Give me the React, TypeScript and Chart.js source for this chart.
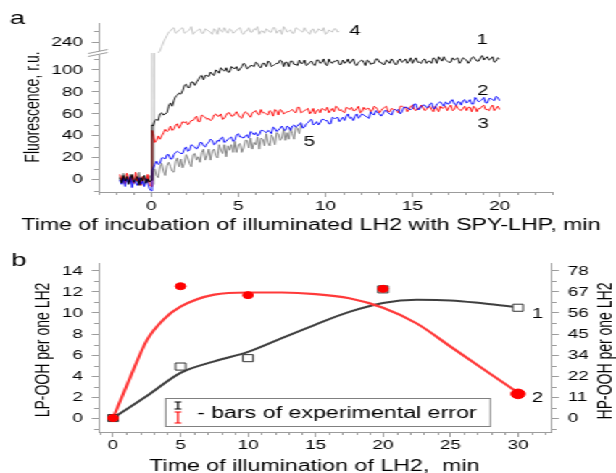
import React, { useEffect, useRef } from "react";
import { Chart, registerables } from "chart.js";

Chart.register(...registerables);

const FONT = "'Liberation Sans', Arial, Helvetica, sans-serif";
const W = 425;
const K = 616 / W;
const AX = "#9c9c9c";
const HA = 245; // panel a canvas height
const TOP_B = 226; // panel b canvas offset
const HB = 260; // panel b canvas height

// ---------------- Panel a : fluorescence traces ----------------
const PRE_T = [-1.8, -1.7, -1.6, -1.5, -1.4, -1.3, -1.2, -1.1, -1.0, -0.9, -0.8, -0.7, -0.6, -0.5, -0.4, -0.3, -0.2, -0.1, 0.0];
const POST_T = [0.05, 0.2, 0.4, 0.6, 0.8, 1, 1.2, 1.4, 1.6, 1.8, 2, 2.2, 2.4, 2.6, 2.8, 3, 3.2, 3.4, 3.6, 3.8, 4, 4.2, 4.4, 4.6, 4.8, 5, 5.2, 5.4, 5.6, 5.8, 6, 6.2, 6.4, 6.6, 6.8, 7, 7.2, 7.4, 7.6, 7.8, 8, 8.2, 8.4, 8.6, 8.8, 9, 9.2, 9.4, 9.6, 9.8, 10, 10.2, 10.4, 10.6, 10.8, 11, 11.2, 11.4, 11.6, 11.8, 12, 12.2, 12.4, 12.6, 12.8, 13, 13.2, 13.4, 13.6, 13.8, 14, 14.2, 14.4, 14.6, 14.8, 15, 15.2, 15.4, 15.6, 15.8, 16, 16.2, 16.4, 16.6, 16.8, 17, 17.2, 17.4, 17.6, 17.8, 18, 18.2, 18.4, 18.6, 18.8, 19, 19.2, 19.4, 19.6, 19.8, 20];
const MID_T = [0.1, 0.3, 0.5, 0.7, 0.9, 1.1, 1.3, 1.5, 1.7, 1.9, 2.1, 2.3, 2.5, 2.7, 2.9, 3.1, 3.3, 3.5, 3.7, 3.9, 4.1, 4.3, 4.5, 4.7, 4.9, 5.1, 5.3, 5.5, 5.7, 5.9, 6.1, 6.3, 6.5, 6.7, 6.9, 7.1, 7.3, 7.5, 7.7, 7.9, 8.1, 8.3, 8.5, 8.7, 8.9, 9.1, 9.3, 9.5, 9.7, 9.9, 10.1, 10.3, 10.5, 10.7, 10.9, 11.1, 11.3, 11.5, 11.7, 11.9, 12.1, 12.3, 12.5, 12.7, 12.9, 13.1, 13.3, 13.5, 13.7, 13.9, 14.1, 14.3, 14.5, 14.7, 14.9, 15.1, 15.3, 15.5, 15.7, 15.9, 16.1, 16.3, 16.5, 16.7, 16.9, 17.1, 17.3, 17.5, 17.7, 17.9, 18.1, 18.3, 18.5, 18.7, 18.9, 19.1, 19.3, 19.5, 19.7, 19.9];

const BLACK_PRE = [2, -3, 4, -1, 3, -4, 1, 5, -2, 0, 3, -5, 2, -1, 4, -3, 1, -2, 0];
const RED_PRE = [5, -1, 3, -4, 6, 0, -2, 4, -3, 7, -1, 2, -5, 3, 1, -2, 5, -4, -6];
const BLUE_PRE = [0, -4, 2, -6, 1, -3, 3, -7, 0, -2, -5, 2, -4, -1, -6, 1, -3, -8, -10];
const GRAY5_PRE = [3, -2, 6, -1, 2, -4, 5, 0, -3, 4, -2, 7, -1, 3, -5, 2, -2, 4, 0];
const GRAY4_PRE = [1, 4, -2, 5, 0, -3, 3, 1, -4, 2, 6, -1, 0, 3, -3, 4, -2, 1, -3];

// curve 1 (black)
const BLACK_POST = [50, 54, 54, 61, 60, 67, 67, 76, 79, 81, 87, 84, 89, 89, 94, 91, 95, 98, 95, 99, 102, 99, 98, 103, 101, 99, 103, 105, 102, 104, 107, 103, 106, 103, 107, 104, 106, 109, 103, 107, 108, 105, 104, 106, 109, 105, 108, 104, 109, 107, 105, 110, 106, 108, 105, 109, 107, 106, 110, 104, 108, 107, 109, 105, 106, 110, 107, 105, 108, 110, 105, 109, 107, 110, 108, 106, 111, 107, 109, 106, 108, 111, 106, 110, 112, 108, 107, 109, 111, 108, 110, 106, 111, 110, 108, 113, 111, 109, 112, 108, 110];
const BLACK_MID = [49, 55, 60, 59, 61, 70, 72, 77, 78, 86, 84, 89, 86, 91, 95, 95, 94, 96, 100, 97, 100, 102, 98, 102, 103, 101, 106, 101, 104, 103, 106, 102, 106, 108, 103, 105, 106, 108, 107, 103, 108, 105, 109, 106, 104, 107, 105, 109, 106, 110, 104, 107, 108, 109, 105, 106, 110, 108, 105, 107, 109, 104, 108, 106, 110, 107, 105, 109, 106, 108, 105, 110, 108, 106, 111, 109, 107, 106, 110, 108, 106, 110, 112, 108, 109, 107, 111, 110, 106, 111, 109, 108, 112, 108, 111, 109, 112, 110, 107, 111];
// curve 3 (red)
const RED_POST = [45, 34, 40, 40, 46, 45, 45, 50, 47, 53, 53, 52, 54, 58, 53, 58, 55, 54, 59, 58, 60, 56, 61, 58, 60, 59, 56, 62, 59, 61, 63, 59, 61, 60, 63, 58, 63, 64, 60, 62, 63, 62, 66, 61, 63, 65, 62, 60, 64, 65, 63, 61, 65, 67, 63, 62, 66, 64, 63, 65, 61, 66, 65, 62, 67, 64, 63, 66, 62, 65, 64, 61, 67, 66, 64, 68, 63, 65, 66, 64, 67, 62, 65, 67, 66, 63, 68, 64, 65, 63, 67, 66, 62, 66, 65, 67, 64, 63, 68, 65, 64];
const RED_MID = [42, 36, 37, 43, 44, 49, 46, 51, 50, 52, 50, 54, 56, 53, 59, 57, 56, 55, 60, 58, 55, 59, 61, 58, 62, 57, 60, 61, 57, 62, 60, 64, 61, 59, 62, 64, 59, 63, 61, 62, 64, 61, 66, 62, 64, 60, 65, 63, 61, 64, 66, 63, 62, 66, 64, 61, 65, 66, 63, 67, 62, 64, 65, 63, 66, 61, 65, 67, 62, 64, 63, 67, 66, 62, 67, 64, 65, 68, 63, 66, 64, 67, 62, 65, 67, 66, 63, 68, 64, 65, 63, 66, 67, 62, 65, 68, 64, 66, 63, 67];
// curve 2 (blue)
const BLUE_POST = [9, 14, 14, 20, 19, 23, 19, 25, 25, 24, 30, 27, 31, 28, 34, 31, 33, 37, 32, 36, 38, 34, 37, 39, 36, 42, 39, 40, 38, 43, 43, 41, 45, 43, 44, 48, 44, 47, 46, 49, 45, 50, 49, 52, 48, 52, 55, 51, 50, 55, 54, 51, 57, 56, 53, 57, 58, 56, 54, 60, 58, 59, 57, 62, 59, 61, 58, 63, 61, 59, 64, 64, 62, 66, 64, 65, 69, 64, 68, 66, 69, 65, 69, 71, 67, 69, 72, 69, 71, 68, 73, 71, 69, 75, 71, 73, 70, 74, 73, 76, 72];
const BLUE_MID = [10, 17, 15, 20, 23, 19, 23, 26, 24, 28, 26, 32, 30, 30, 34, 30, 34, 36, 33, 35, 39, 35, 38, 35, 41, 39, 38, 41, 44, 41, 40, 45, 44, 45, 42, 47, 45, 49, 45, 48, 49, 48, 51, 47, 51, 54, 50, 53, 52, 55, 54, 51, 56, 57, 55, 54, 60, 57, 58, 56, 60, 58, 56, 60, 63, 60, 60, 63, 60, 63, 63, 60, 66, 66, 64, 69, 64, 67, 68, 66, 70, 65, 70, 69, 71, 69, 73, 68, 71, 72, 70, 73, 69, 73, 72, 75, 70, 74, 72, 75];
// curve 5 (dark gray), stops at 8.6 min
const GRAY5_POST = [-1, 10, 2, 15, 4, 16, 8, 17, 12, 11, 23, 15, 23, 18, 16, 28, 22, 18, 28, 20, 27, 32, 31, 32, 35, 32, 25, 36, 29, 28, 32, 28, 37, 42, 31, 38, 43, 36, 46, 43, 47, 37, 47, 51];
const GRAY5_MID = [7, 4, 12, 8, 13, 12, 7, 20, 19, 15, 20, 12, 24, 21, 25, 18, 28, 26, 22, 32, 24, 21, 27, 25, 25, 33, 29, 36, 38, 34, 39, 38, 31, 34, 41, 32, 42, 38, 36, 37, 42, 48, 42];
// curve 4 (light gray): injection spike on the lower axis, then the plateau above the axis break
const GRAY4_SPIKE_T = [0.02, 0.04, 0.1, 0.15, 0.17];
const GRAY4_SPIKE = [-6, 116, null, 116, -4];
const GRAY4_START = 2; // first index (in POST_T and MID_T) of the upper part of trace 4
const GRAY4_HI = [230, 236, 243, 249, 252, 248, 251, 253, 249, 251, 247, 250, 252, 248, 251, 249, 252, 247, 250, 253, 248, 251, 249, 252, 248, 250, 253, 249, 251, 247, 250, 252, 249, 253, 248, 251, 254, 249, 251, 248, 252, 250, 253, 249, 251, 248, 252, 250, 247, 251, 249, 252, 250];
const GRAY4_HI_MID = [232, 240, 246, 250, 253, 249, 252, 248, 250, 254, 249, 251, 248, 252, 250, 247, 251, 253, 249, 250, 252, 248, 251, 253, 247, 250, 249, 252, 254, 250, 248, 251, 249, 253, 250, 247, 252, 250, 248, 253, 251, 249, 250, 247, 252, 249, 251, 253, 248, 250, 252, 249];

const A_X_TICKS = [0, 5, 10, 15, 20];
const A_Y_TICKS = [0, 20, 40, 60, 80, 100];
const A_Y2_TICKS = [240];

const A_LABELS = [
  { text: "1", x: 19.01, y: 127.2, yAxis: "y" },
  { text: "2", x: 19.04, y: 80.8, yAxis: "y" },
  { text: "3", x: 19.07, y: 50.4, yAxis: "y" },
  { text: "4", x: 11.69, y: 249.5, yAxis: "y2" },
  { text: "5", x: 9.08, y: 34.5, yAxis: "y" },
];

// ---------------- Panel b : LP-OOH / HP-OOH ----------------
const B_X = [0, 5, 10, 20, 30];
const B_SERIES1 = [0, 4.9, 5.7, 12.25, 10.5];
const B_SERIES2 = [0, 12.55, 11.7, 12.3, 2.3];
const FIT1_X = [0, 2.5, 5, 7.5, 10, 12.5, 15, 17.5, 20, 22.5, 25, 27.5, 30];
const FIT1_Y = [0, 2.1, 4.3, 5.4, 6.3, 7.6, 8.9, 10.1, 10.95, 11.25, 11.2, 10.9, 10.55];
const FIT2_X = [0, 1.25, 2.5, 3.75, 5, 7.5, 10, 12.5, 15, 17.5, 20, 22.5, 25, 27.5, 30];
const FIT2_Y = [0, 3.8, 7.4, 9.4, 10.6, 11.75, 11.95, 11.95, 11.8, 11.4, 10.5, 9.0, 6.8, 4.6, 2.4];

const B_X_TICKS = [0, 5, 10, 15, 20, 25, 30];
const B_Y_TICKS = [0, 2, 4, 6, 8, 10, 12, 14];
const B_YR_LABELS = ["0", "11", "22", "34", "45", "56", "67", "78"];

const B_LABELS = [
  { text: "1", x: 31.44, y: 9.9, yAxis: "y" },
  { text: "2", x: 31.44, y: 1.9, yAxis: "y" },
];

const LEGEND_TEXT = "- bars of experimental error";

// ---------------- helpers & plugins ----------------
const pts = (xs: number[], ys: (number | null)[]) => xs.map((x, i) => ({ x, y: ys[i] }));
const merge = (a: any[], b: any[]) => [...a, ...b].sort((p, q) => p.x - q.x);

const textPlugin = {
  id: "texts",
  afterDraw(chart: any, _a: any, opts: any) {
    const ctx = chart.ctx;
    for (const t of opts.items || []) {
      ctx.save();
      let x = t.px;
      let y = t.py;
      if (t.x !== undefined) x = chart.scales[t.xAxis || "x"].getPixelForValue(t.x);
      if (t.y !== undefined) y = chart.scales[t.yAxis || "y"].getPixelForValue(t.y);
      ctx.font = `${t.size || 14}px ${FONT}`;
      ctx.fillStyle = t.color || "#000";
      ctx.textAlign = t.align || "center";
      ctx.textBaseline = "middle";
      ctx.translate(x, y);
      if (t.rotate) ctx.rotate(t.rotate);
      ctx.fillText(t.text, 0, 0);
      ctx.restore();
    }
  },
};

const minorPlugin = {
  id: "minorTicks",
  afterDraw(chart: any, _a: any, opts: any) {
    const ctx = chart.ctx;
    ctx.save();
    ctx.strokeStyle = AX;
    ctx.lineWidth = 1;
    ctx.beginPath();
    for (const m of opts.items || []) {
      const s = chart.scales[m.id];
      const majors = new Set(s.ticks.map((t: any) => t.value));
      for (let k = Math.ceil(m.from / m.step - 1e-9); k * m.step <= m.to + 1e-9; k++) {
        const v = +(k * m.step).toFixed(6);
        if (majors.has(v)) continue;
        const p = Math.round(s.getPixelForValue(v)) + 0.5;
        if (s.isHorizontal()) {
          const y0 = Math.round(s.top);
          ctx.moveTo(p, y0);
          ctx.lineTo(p, y0 + m.len);
        } else if (s.position === "left") {
          const x0 = Math.round(s.right);
          ctx.moveTo(x0, p);
          ctx.lineTo(x0 - m.len, p);
        } else {
          const x0 = Math.round(s.left);
          ctx.moveTo(x0, p);
          ctx.lineTo(x0 + m.len, p);
        }
      }
    }
    ctx.stroke();
    ctx.restore();
  },
};

const breakPlugin = {
  id: "axisBreak",
  afterDraw(chart: any, _a: any, opts: any) {
    if (!opts || !opts.show) return;
    const ctx = chart.ctx;
    const s = chart.scales.y;
    const x0 = s.right;
    const y0 = s.top;
    ctx.save();
    ctx.fillStyle = "#fff";
    ctx.fillRect(x0 - 2, y0 - 1.5, 4, 3);
    ctx.strokeStyle = AX;
    ctx.lineWidth = 1;
    ctx.beginPath();
    ctx.moveTo(x0 - 7.5, y0 + 0.5);
    ctx.lineTo(x0 + 6, y0 - 3.5);
    ctx.moveTo(x0 - 7.5, y0 + 3.5);
    ctx.lineTo(x0 + 6, y0 - 0.5);
    ctx.stroke();
    ctx.restore();
  },
};

const legendPlugin = {
  id: "errLegend",
  afterDraw(chart: any, _a: any, o: any) {
    if (!o || !o.box) return;
    const ctx = chart.ctx;
    ctx.save();
    ctx.strokeStyle = o.borderColor;
    ctx.lineWidth = 1;
    ctx.strokeRect(o.box[0] + 0.5, o.box[1] + 0.5, o.box[2], o.box[3]);
    for (const s of o.symbols) {
      ctx.strokeStyle = s.color;
      ctx.lineWidth = 1.2;
      ctx.beginPath();
      ctx.moveTo(s.x, s.y1);
      ctx.lineTo(s.x, s.y2);
      ctx.moveTo(s.x - s.half, s.y1);
      ctx.lineTo(s.x + s.half, s.y1);
      ctx.moveTo(s.x - s.half, s.y2);
      ctx.lineTo(s.x + s.half, s.y2);
      ctx.stroke();
    }
    ctx.font = `${o.size}px ${FONT}`;
    ctx.fillStyle = "#000";
    ctx.textAlign = "left";
    ctx.textBaseline = "alphabetic";
    ctx.fillText(o.text, o.textX, o.textY);
    ctx.restore();
  },
};

const fixTicks = (values: number[]) => (s: any) => {
  s.ticks = values.map((v) => ({ value: v }));
};
const fixWidth = (w: number) => (s: any) => {
  s.width = w;
};
const fixHeight = (h: number) => (s: any) => {
  s.height = h;
};

function axis(extra: any) {
  return {
    type: "linear",
    grid: { display: true, drawOnChartArea: false, drawTicks: true, tickLength: 5, color: AX, tickColor: AX },
    border: { display: true, color: AX, width: 1 },
    title: { display: false },
    ...extra,
    ticks: { color: "#000", font: { size: 13, family: FONT }, padding: 6, maxRotation: 0, autoSkip: false, ...(extra.ticks || {}) },
  };
}

function line(data: any[], color: string, yAxisID = "y", width = 1) {
  return { data, borderColor: color, borderWidth: width, pointRadius: 0, tension: 0, fill: false, yAxisID, spanGaps: false };
}

function configA(): any {
  const g5n = GRAY5_POST.length;
  const g5m = GRAY5_MID.length;
  return {
    type: "line",
    data: {
      datasets: [
        line(pts(PRE_T, BLACK_PRE).concat(merge(pts(POST_T, BLACK_POST), pts(MID_T, BLACK_MID))), "#000000", "y", 0.9),
        line(pts(PRE_T, BLUE_PRE).concat(merge(pts(POST_T, BLUE_POST), pts(MID_T, BLUE_MID))), "#0000ff", "y", 0.9),
        line(pts(PRE_T, RED_PRE).concat(merge(pts(POST_T, RED_POST), pts(MID_T, RED_MID))), "#ff0000", "y", 0.9),
        line(pts(PRE_T, GRAY5_PRE).concat(merge(pts(POST_T.slice(0, g5n), GRAY5_POST), pts(MID_T.slice(0, g5m), GRAY5_MID))), "#7c7c7c", "y", 0.9),
        line(
          merge(
            pts(POST_T.slice(GRAY4_START, GRAY4_START + GRAY4_HI.length), GRAY4_HI),
            pts(MID_T.slice(GRAY4_START, GRAY4_START + GRAY4_HI_MID.length), GRAY4_HI_MID)
          ),
          "#c2c2c2",
          "y2",
          0.9
        ),
        line(pts(PRE_T, GRAY4_PRE).concat(pts(GRAY4_SPIKE_T, GRAY4_SPIKE)), "#c8c8c8", "y", 0.8),
      ],
    },
    options: {
      responsive: false,
      animation: false,
      devicePixelRatio: 1,
      events: [],
      layout: { padding: { top: 23, right: W - 380.7, bottom: 0, left: 0 } },
      scales: {
        x: axis({ position: "bottom", min: -3, max: 23, afterBuildTicks: fixTicks(A_X_TICKS), afterFit: fixHeight(HA - 192), ticks: { padding: 2 } }),
        y: axis({ position: "left", stack: "left", stackWeight: 139, min: -11, max: 115.4, afterBuildTicks: fixTicks(A_Y_TICKS), afterFit: fixWidth(68.3) }),
        y2: axis({ position: "left", stack: "left", stackWeight: 30, min: 230, max: 257.3, afterBuildTicks: fixTicks(A_Y2_TICKS), afterFit: fixWidth(68.3) }),
      },
      plugins: {
        legend: { display: false },
        tooltip: { enabled: false },
        axisBreak: { show: true },
        minorTicks: {
          items: [
            { id: "x", from: -3, to: 23, step: 1, len: 3 },
            { id: "y", from: -10, to: 110, step: 10, len: 3 },
            { id: "y2", from: 250, to: 250, step: 10, len: 3 },
          ],
        },
        texts: {
          items: [
            ...A_LABELS.map((l) => ({ ...l, size: 14 })),
            { text: "a", px: 12.1, py: 19, size: 19 },
            { text: "Fluorescence, r.u.", px: 23.4, py: 107, size: 14, rotate: -Math.PI / 2 },
            { text: "Time of incubation of illuminated LH2 with SPY-LHP, min", px: 214.5, py: 225.5, size: 16 },
          ],
        },
      },
    },
    plugins: [textPlugin, minorPlugin, breakPlugin],
  };
}

function configB(): any {
  return {
    type: "line",
    data: {
      datasets: [
        {
          data: pts(B_X, B_SERIES2),
          showLine: false,
          pointStyle: "circle",
          pointRadius: [3.5, 3.5, 3.5, 3.5, 4.8],
          pointBackgroundColor: "#ff0000",
          pointBorderColor: "#ff0000",
          pointBorderWidth: 1,
        },
        {
          data: pts(B_X, B_SERIES1),
          showLine: false,
          pointStyle: "rect",
          pointRadius: 5,
          pointBackgroundColor: "#ffffff",
          pointBorderColor: "#333333",
          pointBorderWidth: 1,
        },
        { data: pts(FIT2_X, FIT2_Y), borderColor: "#ff3a3a", borderWidth: 2.2, pointRadius: 0, cubicInterpolationMode: "monotone", fill: false },
        { data: pts(FIT1_X, FIT1_Y), borderColor: "#3f3f3f", borderWidth: 2, pointRadius: 0, cubicInterpolationMode: "monotone", fill: false },
      ],
    },
    options: {
      responsive: false,
      animation: false,
      devicePixelRatio: 1,
      events: [],
      layout: { padding: { top: 37, right: 0, bottom: 0, left: 0 } },
      scales: {
        x: axis({ position: "bottom", min: -1.04, max: 32.5, afterBuildTicks: fixTicks(B_X_TICKS), afterFit: fixHeight(HB - 206), ticks: { padding: 1 } }),
        y: axis({ position: "left", min: -1.33, max: 14.76, afterBuildTicks: fixTicks(B_Y_TICKS), afterFit: fixWidth(68.3) }),
        yr: axis({
          position: "right",
          min: -1.33,
          max: 14.76,
          afterBuildTicks: fixTicks(B_Y_TICKS),
          afterFit: fixWidth(W - 380.7),
          ticks: { callback: (_v: any, i: number) => B_YR_LABELS[i] },
        }),
      },
      plugins: {
        legend: { display: false },
        tooltip: { enabled: false },
        minorTicks: {
          items: [
            { id: "x", from: -1, to: 32, step: 1, len: 3 },
            { id: "y", from: -1, to: 14, step: 1, len: 3 },
            { id: "yr", from: -1, to: 14, step: 1, len: 3 },
          ],
        },
        errLegend: {
          box: [113.8, 172, 224, 28],
          borderColor: "#808080",
          symbols: [
            { x: 122.8, y1: 176, y2: 183, half: 2.4, color: "#000" },
            { x: 122.8, y1: 186, y2: 197, half: 2.4, color: "#ff0000" },
          ],
          text: LEGEND_TEXT,
          textX: 135.9,
          textY: 192,
          size: 16,
        },
        texts: {
          items: [
            ...B_LABELS.map((l) => ({ ...l, size: 14 })),
            { text: "b", px: 13.1, py: 34.5, size: 19 },
            { text: "LP-OOH per one LH2", px: 29.7, py: 124, size: 14, rotate: -Math.PI / 2 },
            { text: "HP-OOH per one LH2", px: 418, py: 125, size: 14, rotate: -Math.PI / 2 },
            { text: "Time of illumination of LH2,  min", px: 216.9, py: 240.7, size: 16 },
          ],
        },
      },
    },
    plugins: [textPlugin, minorPlugin, legendPlugin],
  };
}

export default function App() {
  const refA = useRef<HTMLCanvasElement>(null);
  const refB = useRef<HTMLCanvasElement>(null);
  useEffect(() => {
    Chart.defaults.font.family = FONT;
    const a = new Chart(refA.current as HTMLCanvasElement, configA());
    const b = new Chart(refB.current as HTMLCanvasElement, configB());
    return () => {
      a.destroy();
      b.destroy();
    };
  }, []);
  return (
    <div style={{ position: "absolute", left: 0, top: 0, width: 616, height: 473, overflow: "hidden", background: "#fff" }}>
      <div style={{ position: "relative", width: W, height: 473, transform: `scaleX(${K})`, transformOrigin: "0 0" }}>
        <canvas ref={refA} width={W} height={HA} style={{ position: "absolute", left: 0, top: 0, display: "block", width: W, height: HA }} />
        <canvas ref={refB} width={W} height={HB} style={{ position: "absolute", left: 0, top: TOP_B, display: "block", width: W, height: HB }} />
      </div>
    </div>
  );
}
